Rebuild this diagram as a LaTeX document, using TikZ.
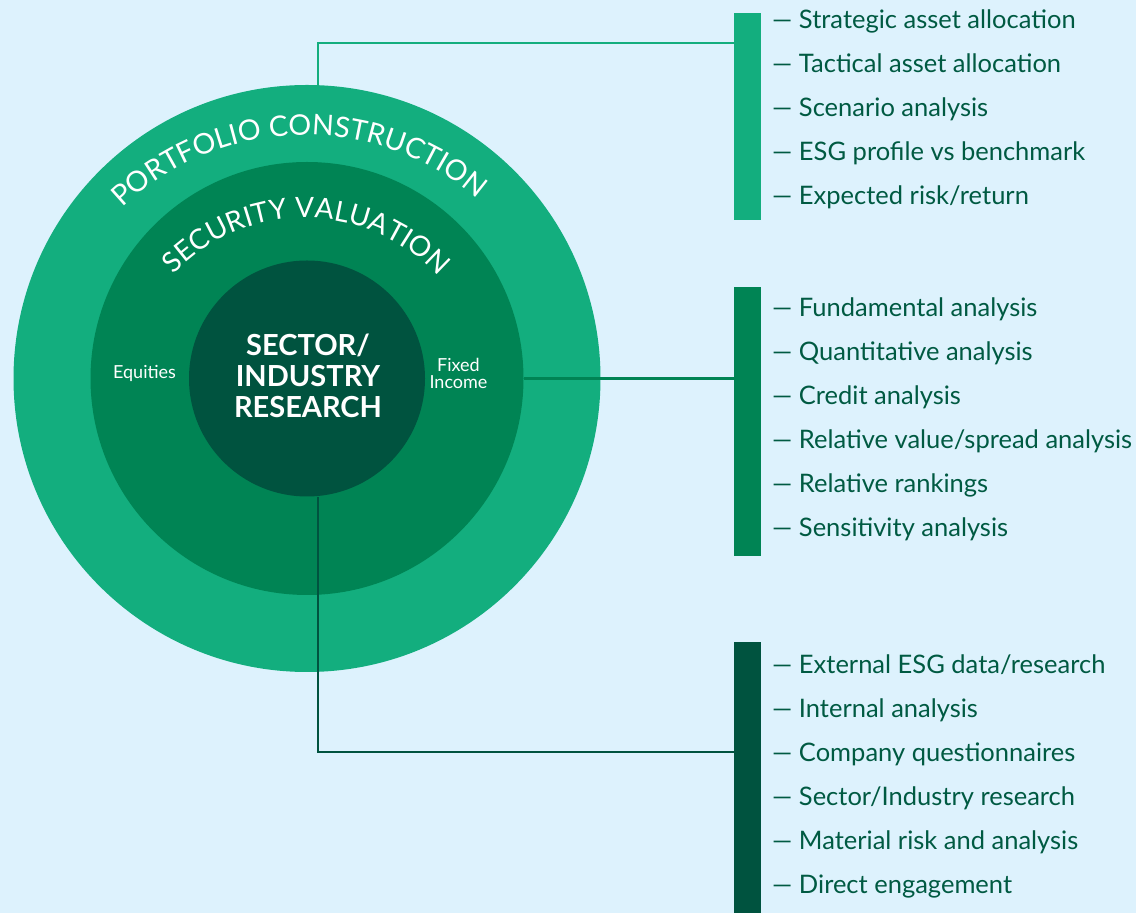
\documentclass[tikz,border=0pt]{standalone}
\usepackage{fontspec}
\setmainfont{Lato}
\usetikzlibrary{decorations.text}
\definecolor{bg}{HTML}{DDF2FD}
\definecolor{gA}{HTML}{13AE7E}
\definecolor{gB}{HTML}{008454}
\definecolor{gC}{HTML}{00533F}
\definecolor{txt}{HTML}{005A42}
\begin{document}
\begin{tikzpicture}[x=1pt,y=1pt,
  ring/.style={circle, inner sep=0pt, draw=none},
  bar/.style={rectangle, inner sep=0pt, minimum width=27pt},
  item/.style={anchor=base west, inner sep=0pt, text=txt, font=\fontsize{25.5}{25.5}\selectfont},
  conn/.style={line width=2.5pt},
  small/.style={text=white, font=\fontsize{18}{17}\selectfont, inner sep=0pt, align=center}
]
\useasboundingbox (0,0) rectangle (1136,913);
\fill[bg] (0,0) rectangle (1136,913);

% circles
\node[ring, fill=gA, minimum size=587pt] (o) at (307,534.5) {};
\node[ring, fill=gB, minimum size=433pt] (m) at (307,534.5) {};
\node[ring, fill=gC, minimum size=236pt] (i) at (307,534.5) {};

% curved labels
\path[decorate, decoration={text along path, text align=center,
  text={|\fontsize{28.5}{28.5}\selectfont\color{white}|PORTFOLIO CONSTRUCTION}}]
  (305,513) ++(171.5:265pt) arc[start angle=171.5, end angle=11.5, radius=265pt];
\path[decorate, decoration={text along path, text align=center,
  text={|\fontsize{28}{28}\selectfont\color{white}|SECURITY VALUATION}}]
  (305,513) ++(169.5:182pt) arc[start angle=169.5, end angle=9.5, radius=182pt];

% inner labels
\node[text=white, align=center, inner sep=0pt, font=\fontsize{29}{31}\selectfont\bfseries] (core) at (308,537) {SECTOR/\\INDUSTRY\\RESEARCH};
\node[small, anchor=base] (eq) at (144.5,534) {Equities};
\node[small] (fi) at (458.5,540) {Fixed\\Income};

% bars
\node[bar, fill=gA, minimum height=207pt] (bar1) at (747.5,796.5) {};
\node[bar, fill=gB, minimum height=269pt] (bar2) at (747.5,491.5) {};
\node[bar, fill=gC, minimum height=271pt] (bar3) at (747.5,135.5) {};

% connectors
\coordinate (k1) at (318,870);
\coordinate (k3) at (318,161);
\draw[conn, gA] (k1 |- o.north) -- (k1) -- (k1 -| bar1.west);
\draw[conn, gB] (m.east) -- (m.east -| bar2.west);
\draw[conn, gC] (k3 |- i.south) -- (k3) -- (k3 -| bar3.west);

% list 1
\node[item] (a1) at (772,884) {— Strategic asset allocation};
\node[item] (a2) at (772,840) {— Tactical asset allocation};
\node[item] (a3) at (772,796) {— Scenario analysis};
\node[item] (a4) at (772,752) {— ESG profile vs benchmark};
\node[item] (a5) at (772,708) {— Expected risk/return};
% list 2
\node[item] (b1) at (772,596) {— Fundamental analysis};
\node[item] (b2) at (772,552) {— Quantitative analysis};
\node[item] (b3) at (772,508) {— Credit analysis};
\node[item] (b4) at (772,464) {— Relative value/spread analysis};
\node[item] (b5) at (772,420) {— Relative rankings};
\node[item] (b6) at (772,376) {— Sensitivity analysis};
% list 3
\node[item] (c1) at (772,239) {— External ESG data/research};
\node[item] (c2) at (772,195) {— Internal analysis};
\node[item] (c3) at (772,151) {— Company questionnaires};
\node[item] (c4) at (772,107) {— Sector/Industry research};
\node[item] (c5) at (772,63) {— Material risk and analysis};
\node[item] (c6) at (772,19) {— Direct engagement};
\end{tikzpicture}
\end{document}
